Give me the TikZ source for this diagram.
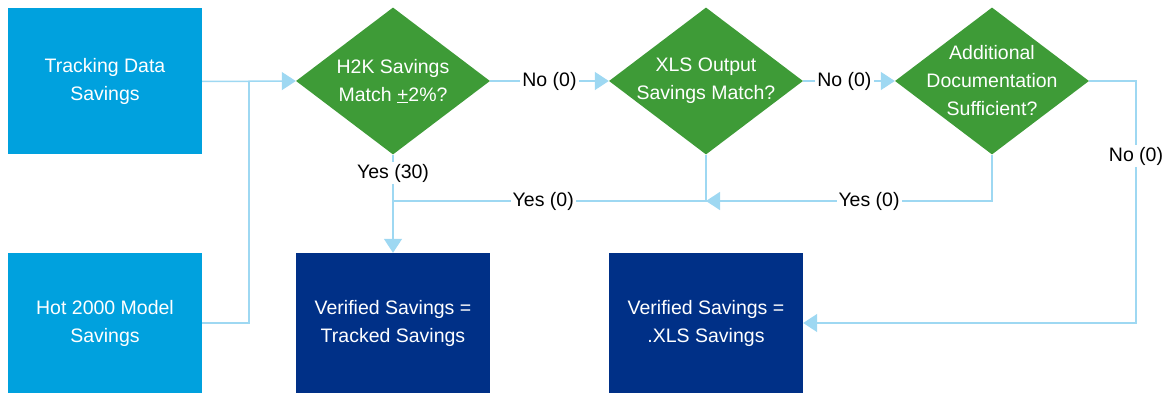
\documentclass[tikz,border=0pt]{standalone}
\usepackage{fontspec}
\setmainfont{Liberation Sans}
\usepackage{xcolor}
\usepackage{tikz}
\usetikzlibrary{shapes.geometric, arrows.meta, positioning, calc}

\definecolor{srcblue}{HTML}{00A1DE}
\definecolor{decgreen}{HTML}{3E9B37}
\definecolor{resnavy}{HTML}{003087}
\definecolor{linkblue}{HTML}{9ED8F2}

\begin{document}
\begin{tikzpicture}[x=1pt, y=-1pt,
        every node/.style={font=\fontsize{19.5}{28}\selectfont, align=center},
        srcbox/.style={fill=srcblue, text=white, minimum width=194, minimum height=146, inner sep=0},
        resbox/.style={fill=resnavy, text=white, minimum width=194, minimum height=140, inner sep=0},
        decbox/.style={diamond, fill=decgreen, minimum width=194, minimum height=147, inner sep=0},
        dectext/.style={text=white, inner sep=0},
        link/.style={draw=linkblue, line width=1.5pt},
        linkarr/.style={link, -{Triangle[length=14pt, width=18pt, fill=linkblue]}},
        tag/.style={fill=white, inner sep=2pt}]
        % page size
        \useasboundingbox (0,0) rectangle (1165,395);

        % Inputs on the left
        \node[srcbox] (track) at (105,81.5) {Tracking Data\\Savings};
        \node[srcbox, minimum height=140] (hot) at (105,323) {Hot 2000 Model\\Savings};

        % Decisions (text put in as centre labels so the diamonds keep their size)
        \node[decbox, label={[dectext]center:{H2K Savings\\Match \underline{+}2\%?}}] (d1) at (393,81) {};
        \node[decbox, label={[dectext]center:{XLS Output\\Savings Match?}}] (d2) at (706,81) {};
        \node[decbox, label={[dectext]center:{Additional\\Documentation\\Sufficient?}}] (d3) at (992,81) {};

        % Results
        \node[resbox] (ver1) at (393,323) {Verified Savings =\\Tracked Savings};
        \node[resbox] (ver2) at (706,323) {Verified Savings =\\.XLS Savings};

        % Junction points
        \coordinate (j1) at (249,81);
        \coordinate (j2) at (393,201);
        \coordinate (j3) at (706,201);
        \coordinate (c3) at (1136,81);

        % Inputs into first check
        \draw[linkarr] (track.east) -- (d1.west);
        \draw[link] (hot.east) -| (j1);

        % No branches
        \draw[linkarr] (d1.east) -- node[tag] {No (0)} (d2.west);
        \draw[linkarr] (d2.east) -- node[tag, pos=0.45] {No (0)} (d3.west);
        \draw[linkarr] (d3.east) -- (c3) |- node[tag, pos=0.155] {No (0)} (ver2.east);

        % Yes branches
        \draw[linkarr] (d1.south) -- node[tag, pos=0.19] {Yes (30)} (ver1.north);
        \draw[link] (d2.south) |- node[tag, pos=0.76] {Yes (0)} (j2);
        \draw[linkarr] (d3.south) |- node[tag, pos=0.715] {Yes (0)} (j3);
    \end{tikzpicture}
\end{document}
